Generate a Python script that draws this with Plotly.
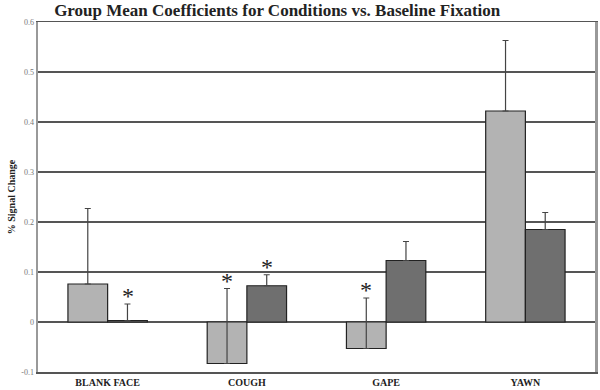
import plotly.graph_objects as go

categories = ["BLANK FACE", "COUGH", "GAPE", "YAWN"]
light_vals = [0.076, -0.083, -0.053, 0.422]
light_err = [0.151, 0.150, 0.101, 0.141]
dark_vals = [0.003, 0.0725, 0.123, 0.185]
dark_err = [0.033, 0.022, 0.038, 0.034]
light_star = [False, True, True, False]
dark_star = [True, True, False, False]
y_ticks = [-0.1, 0, 0.1, 0.2, 0.3, 0.4, 0.5, 0.6]
y_tick_text = ["-0.1", "0", "0.1", "0.2", "0.3", "0.4", "0.5", "0.6"]

SERIF = "Liberation Serif"

fig = go.Figure()
fig.add_trace(go.Bar(
    x=categories, y=light_vals, name="light",
    marker=dict(color="#b3b3b3", line=dict(color="#222", width=1.2)),
    error_y=dict(type="data", symmetric=False, array=light_err,
                 arrayminus=[0]*4, color="#444", thickness=1.2, width=3),
))
fig.add_trace(go.Bar(
    x=categories, y=dark_vals, name="dark",
    marker=dict(color="#6f6f6f", line=dict(color="#222", width=1.2)),
    error_y=dict(type="data", symmetric=False, array=dark_err,
                 arrayminus=[0]*4, color="#444", thickness=1.2, width=3),
))

for i, c in enumerate(categories):
    if light_star[i]:
        fig.add_annotation(x=c, y=light_vals[i] + light_err[i], xshift=-20,
                           text="*", showarrow=False, yanchor="bottom",
                           font=dict(family=SERIF, size=24, color="#222"), yshift=-7)
    if dark_star[i]:
        fig.add_annotation(x=c, y=dark_vals[i] + dark_err[i], xshift=20,
                           text="*", showarrow=False, yanchor="bottom",
                           font=dict(family=SERIF, size=24, color="#222"), yshift=-7)

fig.update_layout(
    width=600, height=390,
    margin=dict(l=38, r=2, t=22, b=14),
    paper_bgcolor="white", plot_bgcolor="white",
    barmode="group", bargap=0.43, bargroupgap=0,
    showlegend=False,
    title=dict(text="<b>Group Mean Coefficients for Conditions vs. Baseline Fixation</b>",
               x=0.462, xanchor="center", y=0.99, yanchor="top",
               font=dict(family=SERIF, size=17, color="#222")),
    xaxis=dict(showgrid=False, tickfont=dict(family=SERIF, size=10, color="#222"),
               showline=True, linecolor="#555", linewidth=1.5, mirror=True,
               ticks="", tickprefix="<b>", ticksuffix="</b>"),
    yaxis=dict(range=[-0.1, 0.6], tickvals=y_ticks, ticktext=y_tick_text,
               tickfont=dict(family=SERIF, size=8, color="#777"),
               showgrid=True, gridcolor="#555", gridwidth=1.2,
               zeroline=True, zerolinecolor="#555", zerolinewidth=1.2,
               showline=True, linecolor="#999", linewidth=2.5, mirror=True,
               ticks="", title=dict(text="<b>% Signal Change</b>", standoff=4,
                                    font=dict(family=SERIF, size=10, color="#222"))),
)

fig.write_html("out.html", config={"displayModeBar": False, "staticPlot": True},
               post_script="document.body.style.margin='0';")
